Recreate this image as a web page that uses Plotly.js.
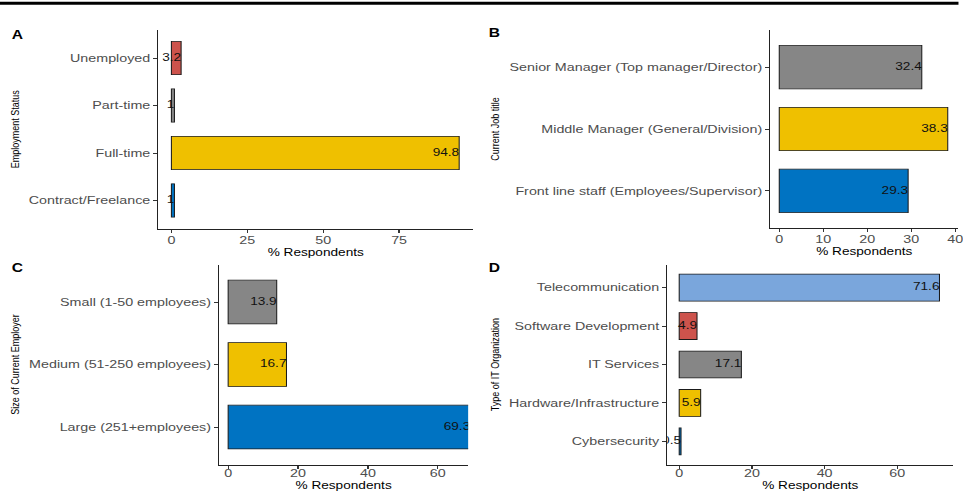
<!DOCTYPE html>
<html>
<head>
<meta charset="utf-8">
<script src="https://cdn.plot.ly/plotly-3.0.1.min.js"></script>
<style>
  html, body { margin: 0; padding: 0; background: #fff; overflow: hidden; }
  #wrap { width: 963px; height: 491px; overflow: hidden; }
  /* the figure is laid out narrow and widened horizontally */
  #chart { width: 740.77px; height: 491px; transform: scaleX(1.3); transform-origin: 0 0; }
</style>
</head>
<body>
<div id="wrap"><div id="chart"></div></div>
<script>
// A: employment status (bottom to top)
const statusCats = ['Contract/Freelance', 'Full-time', 'Part-time', 'Unemployed'];
const statusVals = [1, 94.8, 1, 3.2];

// B: current job title (bottom to top)
const jobCats = ['Front line staff (Employees/Supervisor)', 'Middle Manager (General/Division)', 'Senior Manager (Top manager/Director)'];
const jobVals = [29.3, 38.3, 32.4];

// C: size of current employer (bottom to top)
const sizeCats = ['Large (251+employees)', 'Medium (51-250 employees)', 'Small (1-50 employees)'];
const sizeVals = [69.3, 16.7, 13.9];

// D: type of IT organization (bottom to top)
const orgCats = ['Cybersecurity', 'Hardware/Infrastructure', 'IT Services', 'Software Development', 'Telecommunication'];
const orgVals = [0.5, 5.9, 17.1, 4.9, 71.6];

// JCO-style palette
const jcoBlue = '#0073C2', jcoYellow = '#EFC000', jcoGray = '#868686', jcoRed = '#CD534C', jcoLight = '#7AA6DC';
const statusColors = [jcoBlue, jcoYellow, jcoGray, jcoRed];
const jobColors = [jcoBlue, jcoYellow, jcoGray];
const sizeColors = [jcoBlue, jcoYellow, jcoGray];
const orgColors = [jcoBlue, jcoYellow, jcoGray, jcoRed, jcoLight];

const FONT = 'Liberation Sans, Arial, sans-serif';
const W = 963, H = 491;
const fx = px => px / W;
const fy = py => 1 - py / H;

function barTrace(cats, vals, colors, xa, ya) {
  return {
    type: 'bar', orientation: 'h', x: vals, y: cats, width: 0.7,
    marker: { color: colors, line: { color: '#1a1a1a', width: 0.8 } },
    xaxis: xa, yaxis: ya, hoverinfo: 'x+y', showlegend: false
  };
}
function labelTrace(cats, vals, xa, ya) {
  return {
    type: 'scatter', mode: 'text', x: vals, y: cats,
    text: vals.map(v => String(v)), textposition: 'middle left',
    textfont: { family: FONT, size: 10.5, color: '#111' },
    cliponaxis: true, xaxis: xa, yaxis: ya, hoverinfo: 'skip', showlegend: false
  };
}

function xAxis(x0, x1, range, dtick, anchor, labelShift, titleGap) {
  return {
    domain: [fx(x0), fx(x1)], anchor: anchor, range: range,
    tick0: 0, dtick: dtick, showgrid: false, zeroline: false,
    showline: true, linecolor: '#222', linewidth: 1,
    ticks: 'outside', ticklen: 3, tickwidth: 1, tickcolor: '#333',
    ticklabelstandoff: labelShift, ticklabeloverflow: 'allow',
    tickfont: { family: FONT, size: 11, color: '#4d4d4d' },
    title: { text: '% Respondents', font: { family: FONT, size: 10.5, color: '#000' }, standoff: titleGap },
    fixedrange: true
  };
}
function yAxis(yt, yb, cats, title, anchor) {
  return {
    domain: [fy(yb), fy(yt)], anchor: anchor, type: 'category',
    categoryorder: 'array', categoryarray: cats,
    range: [-0.6, cats.length - 0.4],
    showgrid: false, zeroline: false,
    showline: true, linecolor: '#222', linewidth: 1,
    ticks: 'outside', ticklen: 3, tickwidth: 1, tickcolor: '#333',
    tickfont: { family: FONT, size: 11, color: '#4d4d4d' },
    title: { text: title, font: { family: FONT, size: 9, color: '#000' }, standoff: 5 },
    fixedrange: true
  };
}

const data = [
  barTrace(statusCats, statusVals, statusColors, 'x', 'y'),
  labelTrace(statusCats, statusVals, 'x', 'y'),
  barTrace(jobCats, jobVals, jobColors, 'x2', 'y2'),
  labelTrace(jobCats, jobVals, 'x2', 'y2'),
  barTrace(sizeCats, sizeVals, sizeColors, 'x3', 'y3'),
  labelTrace(sizeCats, sizeVals, 'x3', 'y3'),
  barTrace(orgCats, orgVals, orgColors, 'x4', 'y4'),
  labelTrace(orgCats, orgVals, 'x4', 'y4')
];

function letter(txt, px, py) {
  return { text: '<b>' + txt + '</b>', xref: 'paper', yref: 'paper', x: fx(px), y: fy(py),
           xanchor: 'center', yanchor: 'middle', showarrow: false,
           font: { family: FONT, size: 12, color: '#000' } };
}

const layout = {
  width: 740.77, height: H,
  margin: { l: 0, r: 0, t: 0, b: 0 },
  paper_bgcolor: '#fff', plot_bgcolor: '#fff',
  font: { family: FONT },
  bargap: 0.3,
  xaxis:  xAxis(158.3, 473, [-4.3, 99.4], 25, 'y', -2, 0),
  yaxis:  yAxis(29.5, 229, statusCats, 'Employment Status', 'x'),
  xaxis2: xAxis(770, 958, [-2.05, 40.7], 10, 'y2', -2, 0),
  yaxis2: yAxis(30, 228, jobCats, 'Current Job title', 'x2'),
  xaxis3: xAxis(219, 468, [-2.6, 68.7], 20, 'y3', -5, 3),
  yaxis3: yAxis(264.5, 464.5, sizeCats, 'Size of Current Employer', 'x3'),
  xaxis4: xAxis(667, 953, [-3.3, 75.4], 20, 'y4', -5, 3),
  yaxis4: yAxis(264.5, 464.5, orgCats, 'Type of IT Organization', 'x4'),
  annotations: [
    letter('A', 17, 35), letter('B', 494, 33),
    letter('C', 17, 268), letter('D', 494, 268)
  ],
  shapes: [
    { type: 'rect', xref: 'paper', yref: 'paper', x0: 0, x1: 0.995, y0: fy(4.8), y1: fy(1.8),
      fillcolor: '#000', line: { width: 0 } }
  ]
};

Plotly.newPlot('chart', data, layout, { staticPlot: true, displayModeBar: false });
</script>
</body>
</html>
